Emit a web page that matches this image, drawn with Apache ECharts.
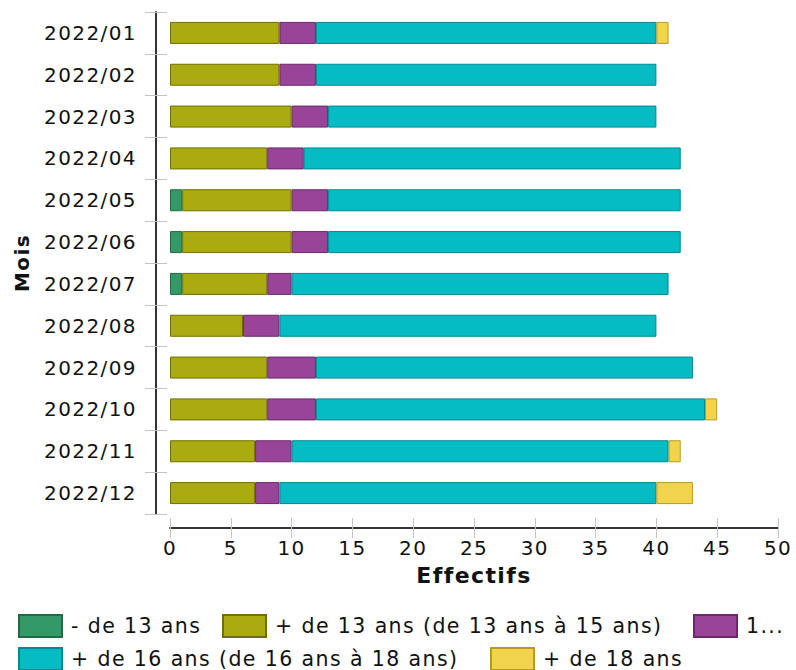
<!DOCTYPE html>
<html><head><meta charset="utf-8">
<script src="https://cdn.jsdelivr.net/npm/echarts@6/dist/echarts.min.js"></script>
<style>html,body{margin:0;padding:0;background:#fff}#c{width:796px;height:670px}
#c svg text{letter-spacing:1.4px}</style>
</head><body><div id="c"></div>
<script>
const categories = ['2022/01','2022/02','2022/03','2022/04','2022/05','2022/06','2022/07','2022/08','2022/09','2022/10','2022/11','2022/12'];
const seriesNames = ['- de 13 ans','+ de 13 ans (de 13 ans à 15 ans)','15 ans (de 15 ans à 16 ans)','+ de 16 ans (de 16 ans à 18 ans)','+ de 18 ans'];
const under13 = [0,0,0,0,1,1,1,0,0,0,0,0];
const age13to15 = [9,9,10,8,9,9,7,6,8,8,7,7];
const age15to16 = [3,3,3,3,3,3,2,3,4,4,3,2];
const age16to18 = [28,28,27,31,29,29,31,31,31,32,31,31];
const over18 = [1,0,0,0,0,0,0,0,0,1,1,3];
const xTicks = [0,5,10,15,20,25,30,35,40,45,50];

const values = [under13, age13to15, age15to16, age16to18, over18];
const colors = ['#339966','#aaaa11','#994499','#05bcc4','#f2d44c'];
const borders = ['#1f6b44','#6f6f00','#6a2a6a','#028890','#b89a20'];
const FONT = 'DejaVu Sans';

const chart = echarts.init(document.getElementById('c'), null, {renderer:'svg'});
const series = values.map((v,i)=>({
  name: seriesNames[i], type:'bar', stack:'total',
  data: v.map(x => x === 0 ? null : x), barWidth: 22,
  itemStyle:{color:colors[i], borderColor:borders[i], borderWidth:1},
  yAxisIndex:0, xAxisIndex:0
}));
const legendFmt = n => n === seriesNames[2] ? '1...' : n;
const legendPos = [[18,614],[222,614],[693,614],[18,647],[490,647]];
const legends = seriesNames.map((n,i)=>({
  data:[n], left:legendPos[i][0], top:legendPos[i][1], itemWidth:43, itemHeight:22,
  icon:'rect', formatter:legendFmt, selectedMode:false, padding:0,
  textStyle:{fontFamily:FONT, fontSize:20.5, color:'#111', padding:[0,0,0,4]}
}));
const axisLineStyle = {color:'#333', width:2};
const tickStyle = {color:'#c4c4c4', width:1};
chart.setOption({
  animation:false,
  textStyle:{fontFamily:FONT},
  grid:{left:170, right:18, top:12, bottom:156, containLabel:false},
  xAxis:[{type:'value', min:xTicks[0], max:xTicks[xTicks.length-1], interval:5, offset:14,
    name:'Effectifs', nameLocation:'middle', nameGap:36,
    nameTextStyle:{fontFamily:FONT, fontWeight:'bold', fontSize:22, color:'#111'},
    axisLine:{show:true, onZero:false, lineStyle:axisLineStyle},
    axisTick:{show:true, inside:true, length:10, lineStyle:tickStyle},
    axisLabel:{fontFamily:FONT, fontSize:20, color:'#111', margin:10},
    splitLine:{show:false}},
   {type:'value', min:xTicks[0], max:xTicks[xTicks.length-1], interval:5, offset:14, position:'bottom',
    axisLine:{show:false, onZero:false}, axisLabel:{show:false},
    axisTick:{show:true, inside:false, length:10, lineStyle:tickStyle}, splitLine:{show:false}}],
  yAxis:[{type:'category', data:categories, inverse:true, offset:14,
    name:'Mois', nameLocation:'middle', nameGap:124, nameRotate:90,
    nameTextStyle:{fontFamily:FONT, fontWeight:'bold', fontSize:20, color:'#111'},
    axisLine:{show:true, onZero:false, lineStyle:axisLineStyle},
    axisTick:{show:true, length:11, lineStyle:tickStyle},
    axisLabel:{fontFamily:FONT, fontSize:20, color:'#111', margin:19}},
   {type:'category', data:categories, inverse:true, offset:14, position:'left',
    axisLine:{show:false, onZero:false}, axisLabel:{show:false},
    axisTick:{show:true, inside:true, length:11, lineStyle:tickStyle}}],
  legend: legends,
  series: series
});
</script></body></html>
